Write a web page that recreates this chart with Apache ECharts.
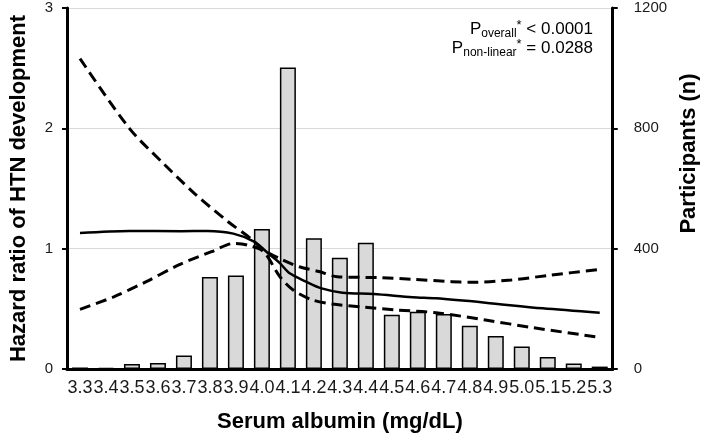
<!DOCTYPE html>
<html>
<head>
<meta charset="utf-8">
<script src="https://cdn.jsdelivr.net/npm/echarts@6/dist/echarts.min.js"></script>
<style>html,body{margin:0;padding:0;background:#fff;}#c{width:708px;height:439px;}</style>
</head>
<body>
<div id="c"></div>
<script>
const categories = ['3.3','3.4','3.5','3.6','3.7','3.8','3.9','4.0','4.1','4.2','4.3','4.4','4.5','4.6','4.7','4.8','4.9','5.0','5.1','5.2','5.3'];
const participants = [5, 4, 17, 20, 45, 306, 311, 465, 1002, 435, 370, 420, 180, 190, 183, 144, 110, 75, 40, 18, 8];
const hrTicks = [0, 1, 2, 3];
const nTicks = [0, 400, 800, 1200];
// [albumin, HR]
const hrEstimate = [[3.30,1.13],[3.49,1.147],[3.69,1.145],[3.79,1.147],[3.89,1.125],[3.97,1.058],[4.025,0.96],[4.07,0.878],[4.107,0.795],[4.17,0.726],[4.23,0.67],[4.31,0.634],[4.43,0.623],[4.58,0.596],[4.67,0.587],[4.86,0.551],[5.08,0.504],[5.30,0.468]];
const hrUpper = [[3.30,2.58],[3.49,2.0],[3.62,1.71],[3.74,1.46],[3.87,1.224],[3.956,1.086],[4.006,0.99],[4.08,0.906],[4.144,0.85],[4.22,0.81],[4.29,0.767],[4.46,0.759],[4.58,0.745],[4.73,0.726],[4.80,0.72],[4.96,0.74],[5.11,0.78],[5.30,0.828]];
const hrLower = [[3.30,0.496],[3.43,0.60],[3.555,0.726],[3.68,0.865],[3.806,0.975],[3.894,1.044],[3.944,1.03],[4.006,0.976],[4.069,0.767],[4.12,0.657],[4.194,0.574],[4.27,0.54],[4.395,0.513],[4.52,0.49],[4.67,0.468],[4.86,0.407],[5.045,0.343],[5.30,0.263]];

const FONT = "'Liberation Sans', Arial, Helvetica, sans-serif";
const chart = echarts.init(document.getElementById('c'), null, {renderer: 'canvas'});
const axisLine = {show: true, lineStyle: {color: '#000', width: 3}};
const tickStyle = {show: true, inside: false, length: 5, lineStyle: {color: '#000', width: 2}};
const nameStyle = {fontFamily: FONT, fontSize: 22, fontWeight: 'bold', color: '#000'};
const rich = {
  m: {fontFamily: FONT, fontSize: 17, color: '#111', lineHeight: 22},
  s: {fontFamily: FONT, fontSize: 12, color: '#111', padding: [8, 0, 0, 0], lineHeight: 12},
  t: {fontFamily: FONT, fontSize: 13, color: '#111', padding: [0, 0, 8, 0], lineHeight: 13}
};
chart.setOption({
  animation: false,
  backgroundColor: '#fff',
  grid: {left: 62, right: 87, top: 8, bottom: 70},
  xAxis: [{
    type: 'category', data: categories, boundaryGap: true,
    axisLine: axisLine, axisTick: {show: false},
    axisLabel: {interval: 0, fontFamily: FONT, fontSize: 18, color: '#1a1a1a', margin: 10},
    name: 'Serum albumin (mg/dL)', nameLocation: 'middle', nameGap: 42, nameTextStyle: nameStyle
  }, {
    type: 'value', min: 3.25, max: 5.35, show: false
  }],
  yAxis: [{
    type: 'value', min: hrTicks[0], max: hrTicks[hrTicks.length - 1], interval: 1, position: 'left',
    axisLine: axisLine, axisTick: tickStyle,
    axisLabel: {fontFamily: FONT, fontSize: 15, color: '#1a1a1a', margin: 14},
    splitLine: {show: true, lineStyle: {color: '#d9d9d9', width: 1}},
    name: 'Hazard ratio of HTN development', nameLocation: 'middle', nameGap: 37, nameTextStyle: nameStyle
  }, {
    type: 'value', min: nTicks[0], max: nTicks[nTicks.length - 1], interval: 400, position: 'right',
    axisLine: axisLine, axisTick: tickStyle,
    axisLabel: {fontFamily: FONT, fontSize: 15, color: '#1a1a1a', margin: 21, formatter: function (v) { return String(v); }},
    splitLine: {show: false},
    name: 'Participants (n)', nameLocation: 'middle', nameGap: 58,
    nameTextStyle: Object.assign({}, nameStyle, {padding: [0, 0, 0, 70]})
  }],
  series: [{
    type: 'bar', xAxisIndex: 0, yAxisIndex: 1, data: participants, barWidth: 16, z: 1,
    itemStyle: {color: '#d9d9d9', borderColor: '#000', borderWidth: 1.5}
  }, {
    type: 'line', xAxisIndex: 1, yAxisIndex: 0, data: hrUpper, smooth: 0.3, showSymbol: false, z: 3,
    lineStyle: {color: '#000', width: 3, type: [11, 6]}
  }, {
    type: 'line', xAxisIndex: 1, yAxisIndex: 0, data: hrLower, smooth: 0.3, showSymbol: false, z: 3,
    lineStyle: {color: '#000', width: 3, type: [11, 6]}
  }, {
    type: 'line', xAxisIndex: 1, yAxisIndex: 0, data: hrEstimate, smooth: 0.3, showSymbol: false, z: 4,
    lineStyle: {color: '#000', width: 2.5}
  }],
  graphic: [{
    type: 'text', right: 115, top: 19,
    style: {text: '{m|P}{s|overall}{t|*}{m| < 0.0001}', rich: rich, align: 'right'}
  }, {
    type: 'text', right: 115, top: 38,
    style: {text: '{m|P}{s|non-linear}{t|*}{m| = 0.0288}', rich: rich, align: 'right'}
  }]
});
</script>
</body>
</html>
